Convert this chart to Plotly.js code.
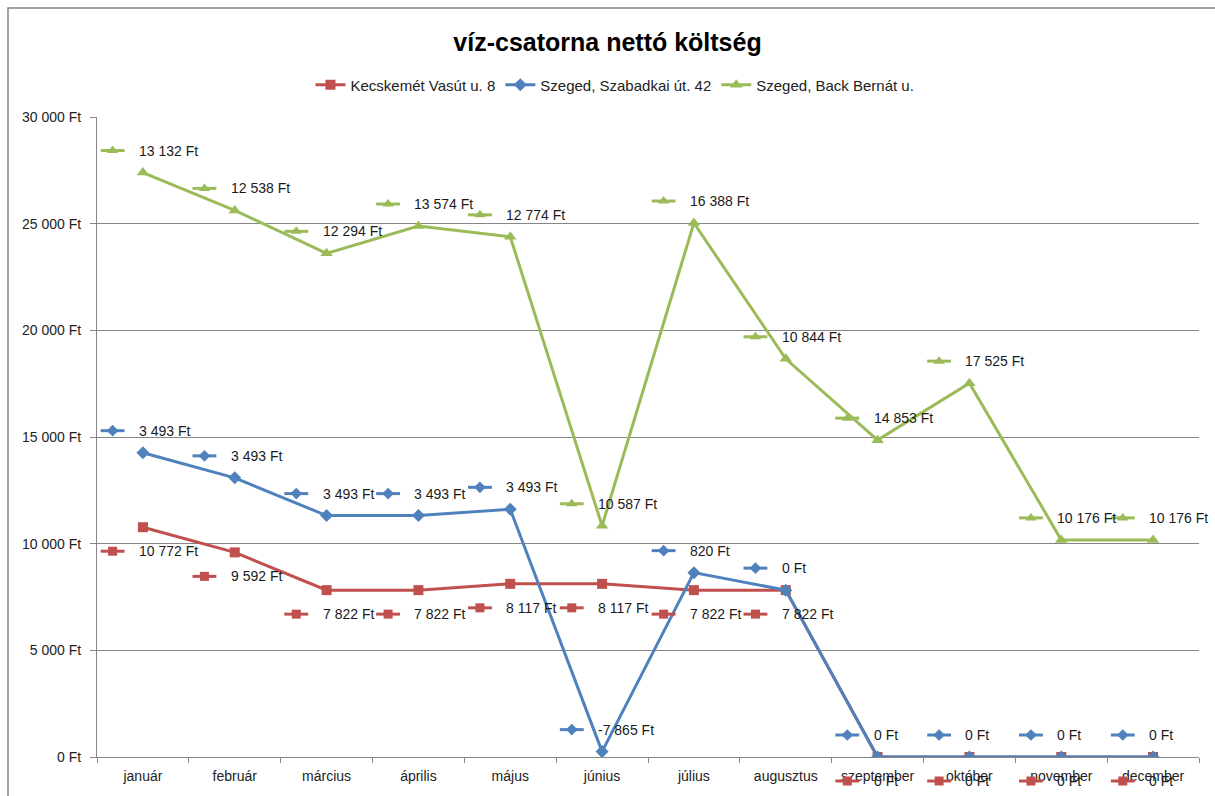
<!DOCTYPE html>
<html>
<head>
<meta charset="utf-8">
<script src="https://cdn.plot.ly/plotly-3.0.1.min.js"></script>
<style>html,body{margin:0;padding:0;background:#fff;}#chart{width:1215px;height:796px;}</style>
</head>
<body>
<div id="chart"></div>
<script>
// ---- data ----
const months = ["január","február","március","április","május","június","július","augusztus","szeptember","október","november","december"];
const seriesNames = ["Kecskemét Vasút u. 8", "Szeged, Szabadkai út. 42", "Szeged, Back Bernát u."];
const kecskemet = [10772, 9592, 7822, 7822, 8117, 8117, 7822, 7822, 0, 0, 0, 0];
const szabadkai = [3493, 3493, 3493, 3493, 3493, -7865, 820, 0, 0, 0, 0, 0];
const backBernat = [13132, 12538, 12294, 13574, 12774, 10587, 16388, 10844, 14853, 17525, 10176, 10176];
const chartTitle = "víz-csatorna nettó költség";

// ---- styles / geometry ----
const colors = ["#C0504D", "#4F81BD", "#9BBB59"];
const symbols = ["square", "diamond", "triangle-up"];
const markerSizes = [10, 10, 11];
const labelShiftPx = [-24, 22, 22];
const FONT = "Liberation Sans, Arial, sans-serif";
const W = 1215, H = 796;
const PLOT = {left: 97, right: 1199, top: 117, bottom: 757};   // plot area in pixels
const Y_MAX = 30000;
const N = months.length;
const catPx = (PLOT.right - PLOT.left) / N;
const pxToData = Y_MAX / (PLOT.bottom - PLOT.top);
const KEY_CENTER = -0.33, KEY_HALF = 0.13;   // data-label legend key offset, in category widths

const values = [kecskemet, szabadkai, backBernat];
// stacked line chart (Excel "stacked line"): cumulative sums
const stacked = [];
values.forEach((arr, s) => {
  stacked.push(arr.map((v, i) => v + (s > 0 ? stacked[s - 1][i] : 0)));
});

function fmt(v) {
  const sign = v < 0 ? "-" : "";
  const s = String(Math.abs(v)).replace(/\B(?=(\d{3})+(?!\d))/g, " ");
  return sign + s + " Ft";
}

const traces = values.map((arr, s) => ({
  type: "scatter",
  mode: "lines+markers",
  name: seriesNames[s],
  x: months,
  y: stacked[s],
  line: {color: colors[s], width: 3},
  marker: {color: colors[s], symbol: symbols[s], size: markerSizes[s]},
  hoverinfo: "skip"
}));

// data-label legend keys, drawn on a full-figure overlay subplot with the same scale
values.forEach((arr, s) => {
  const lx = [], ly = [], mx = [], my = [];
  arr.forEach((v, i) => {
    const yk = stacked[s][i] + labelShiftPx[s] * pxToData;
    lx.push(i + KEY_CENTER - KEY_HALF, i + KEY_CENTER + KEY_HALF, null);
    ly.push(yk, yk, null);
    mx.push(i + KEY_CENTER);
    my.push(yk);
  });
  traces.push({
    type: "scatter", mode: "lines", x: lx, y: ly, xaxis: "x3", yaxis: "y3",
    line: {color: colors[s], width: 3}, showlegend: false, hoverinfo: "skip"
  });
  traces.push({
    type: "scatter", mode: "markers", x: mx, y: my, xaxis: "x3", yaxis: "y3",
    marker: {color: colors[s], symbol: symbols[s], size: markerSizes[s] - 1},
    showlegend: false, hoverinfo: "skip"
  });
});

const annotations = [];
values.forEach((arr, s) => {
  arr.forEach((v, i) => {
    annotations.push({
      x: months[i], y: stacked[s][i], xref: "x", yref: "y",
      showarrow: false, xanchor: "left",
      xshift: -6, yshift: labelShiftPx[s],
      text: fmt(v),
      font: {family: FONT, size: 14, color: "#1a1a1a"}
    });
  });
});

const layout = {
  width: W, height: H,
  paper_bgcolor: "#ffffff", plot_bgcolor: "rgba(0,0,0,0)",
  margin: {l: 0, r: 0, t: 0, b: 0, autoexpand: false},
  separators: ", ",
  title: {
    text: "<b>" + chartTitle + "</b>",
    x: 0.5, xanchor: "center", xref: "container",
    y: 1 - 42 / H, yref: "container", yanchor: "middle",
    font: {family: FONT, size: 25, color: "#000"}
  },
  showlegend: true,
  legend: {
    orientation: "h", x: 615 / W, xanchor: "center", y: 1 - 85 / H, yanchor: "middle",
    font: {family: FONT, size: 15, color: "#222"},
    traceorder: "normal"
  },
  xaxis: {
    type: "category", range: [-0.5, N - 0.5], autorange: false,
    domain: [PLOT.left / W, PLOT.right / W], anchor: "y",
    showline: true, linecolor: "#868686", linewidth: 1,
    showgrid: false, zeroline: false,
    ticks: "outside", tickson: "boundaries", ticklen: 5, tickcolor: "#868686",
    tickangle: 0, ticklabelstandoff: 6,
    tickfont: {family: FONT, size: 14, color: "#222"},
    fixedrange: true
  },
  yaxis: {
    range: [0, Y_MAX], autorange: false, dtick: 5000, tick0: 0,
    domain: [1 - PLOT.bottom / H, 1 - PLOT.top / H], anchor: "x",
    tickformat: ",d", ticksuffix: " Ft",
    showline: true, linecolor: "#868686", linewidth: 1,
    showgrid: true, gridcolor: "#868686", gridwidth: 1,
    zeroline: false,
    ticks: "outside", ticklen: 6, tickcolor: "#868686",
    ticklabelstandoff: 6,
    tickfont: {family: FONT, size: 14, color: "#222"},
    fixedrange: true
  },
  xaxis3: {
    type: "linear", domain: [0, 1], anchor: "y3", visible: false, fixedrange: true,
    range: [-0.5 - PLOT.left / catPx, -0.5 + (W - PLOT.left) / catPx], autorange: false
  },
  yaxis3: {
    type: "linear", domain: [0, 1], anchor: "x3", visible: false, fixedrange: true,
    range: [-(H - PLOT.bottom) * pxToData, Y_MAX + PLOT.top * pxToData], autorange: false
  },
  shapes: [{
    type: "rect", xref: "paper", yref: "paper",
    x0: 8 / W, x1: 1.2, y0: -0.2, y1: 1 - 8 / H,
    line: {color: "#868686", width: 1.5}, fillcolor: "rgba(0,0,0,0)", layer: "below"
  }],
  annotations: annotations
};

Plotly.newPlot("chart", traces, layout, {displayModeBar: false, staticPlot: true});
</script>
</body>
</html>
